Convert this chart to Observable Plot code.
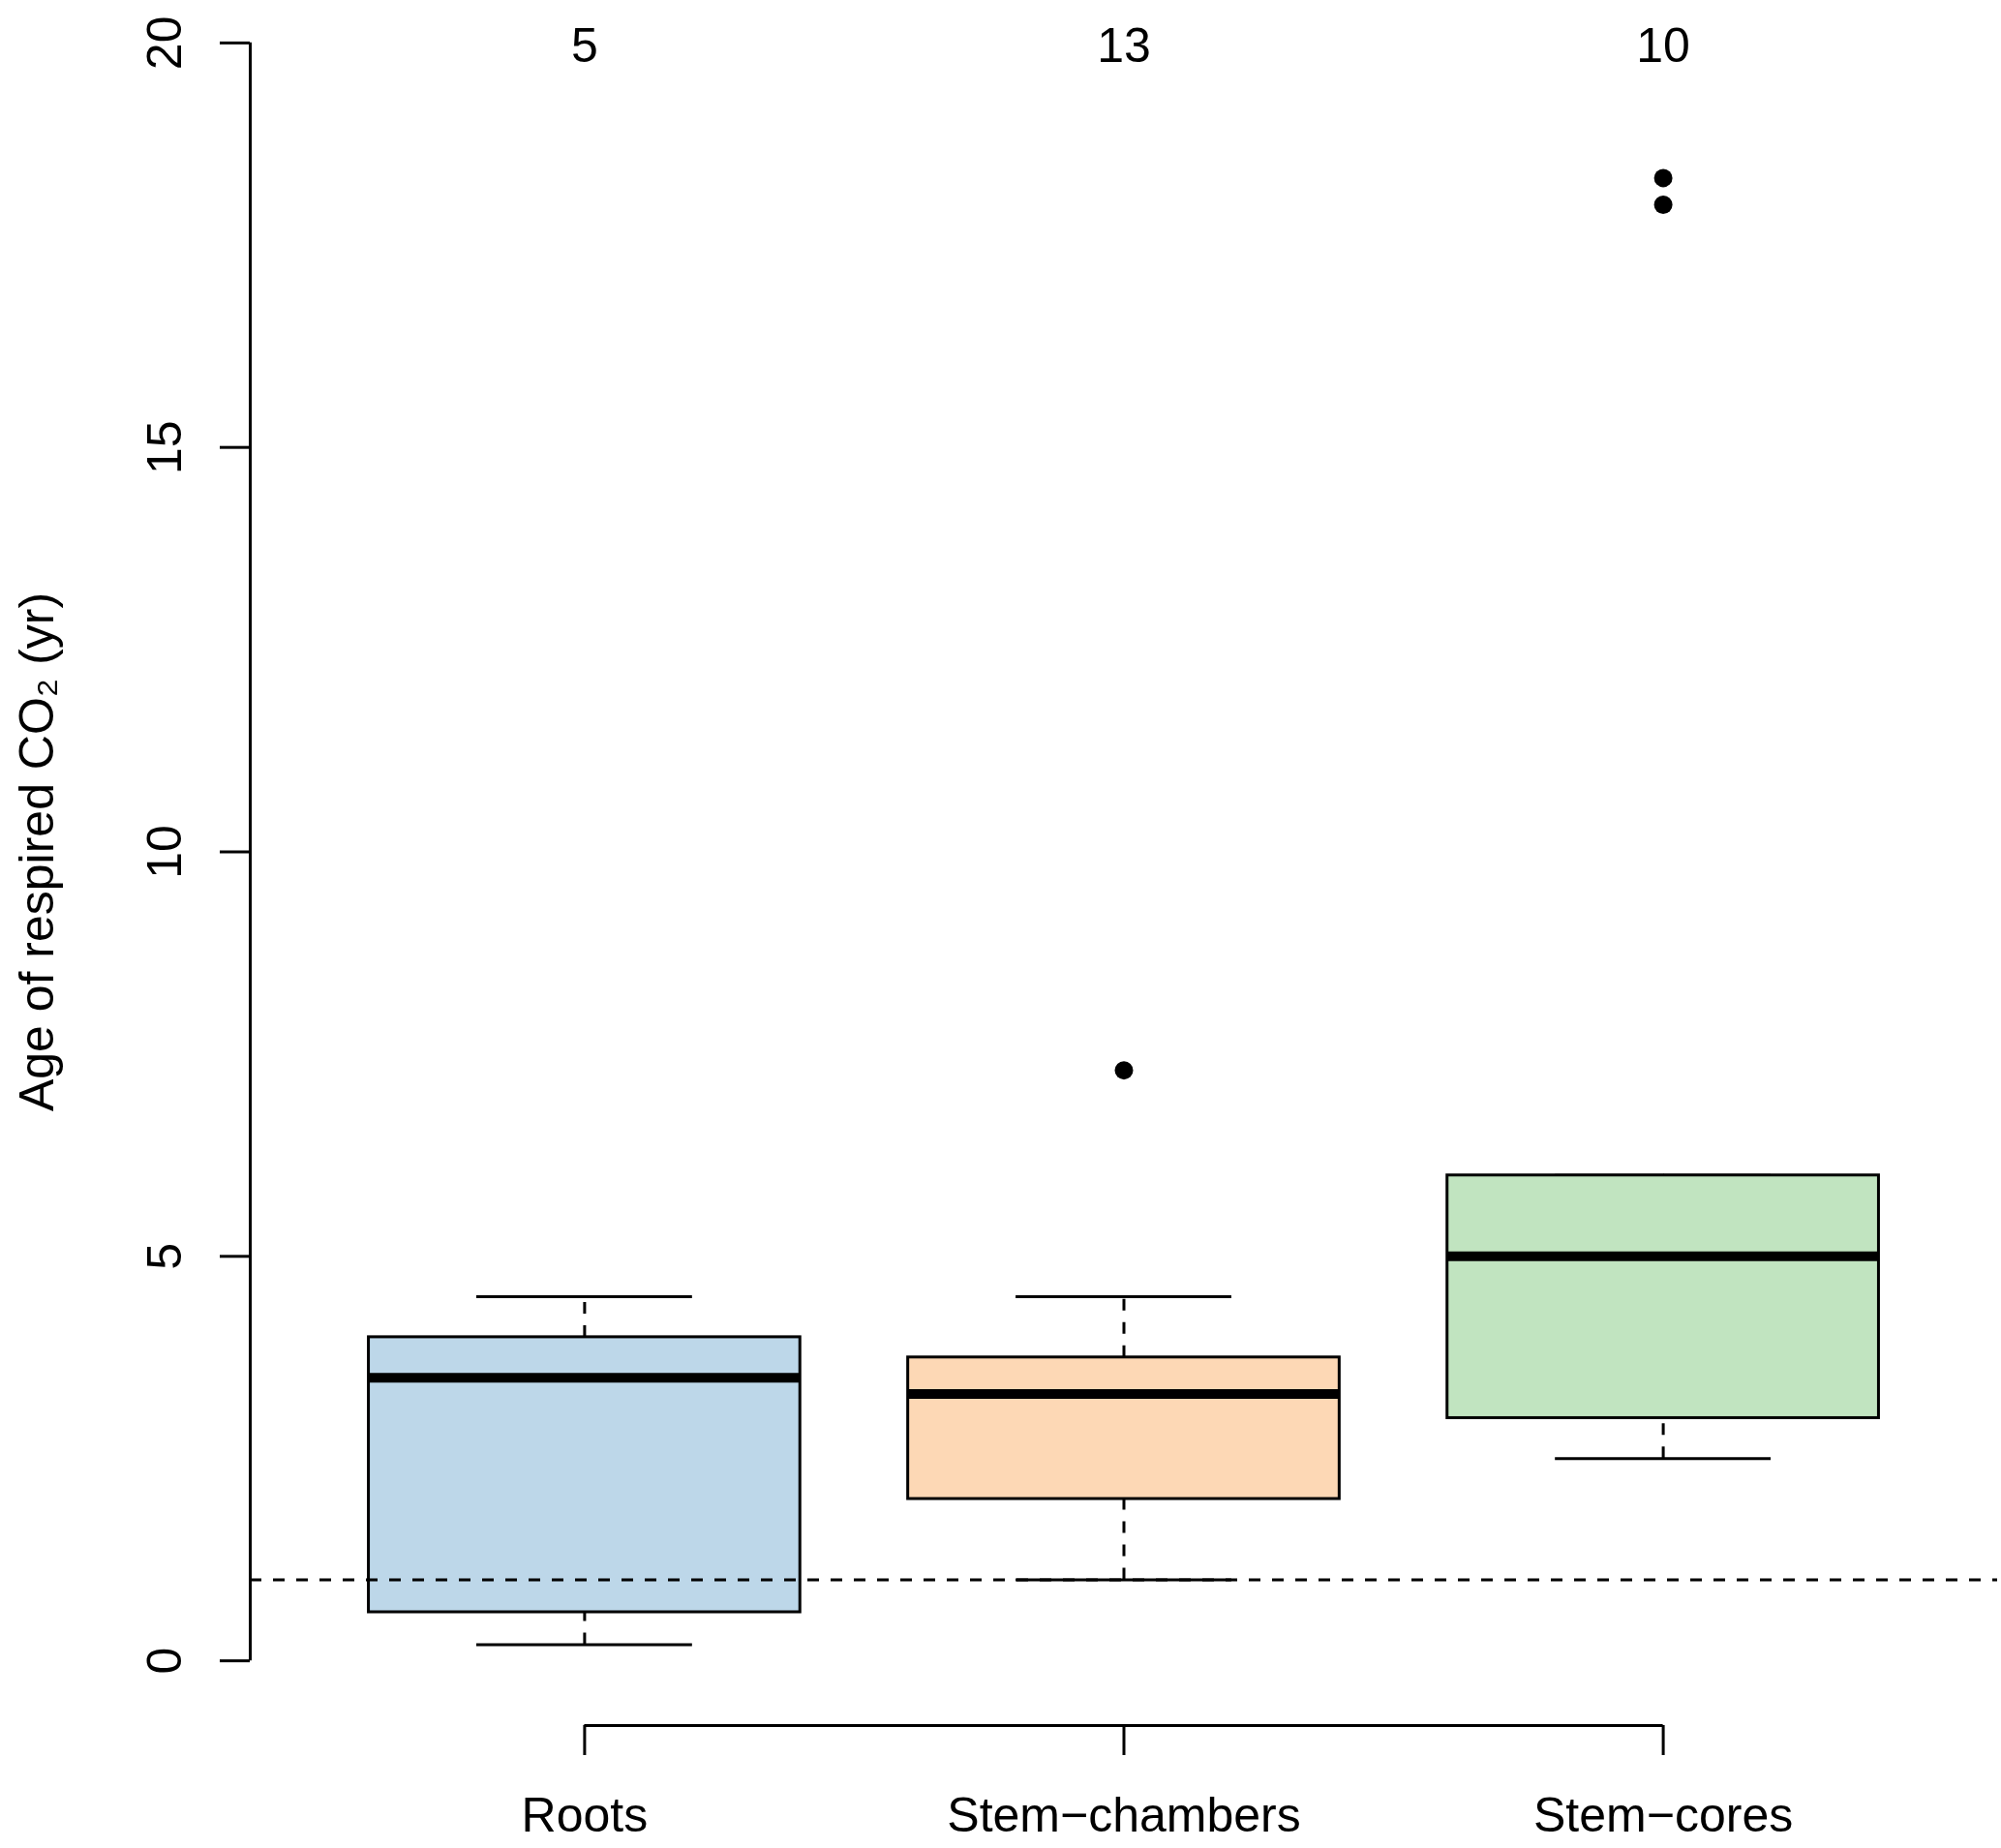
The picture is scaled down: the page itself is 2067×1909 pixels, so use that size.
<!DOCTYPE html>
<html>
<head>
<meta charset="utf-8">
<script src="https://cdn.jsdelivr.net/npm/d3@7"></script>
<script src="https://cdn.jsdelivr.net/npm/@observablehq/plot@0.6"></script>
<style>
  html, body { margin: 0; padding: 0; background: #ffffff; }
  #chart svg { display: block; }
</style>
</head>
<body>
<div id="chart"></div>
<script>
// ---- data ----
const categories   = ["Roots", "Stem\u2212chambers", "Stem\u2212cores"];
const counts       = [5, 13, 10];
const lowerWhisker = [0.2, 1.0, 2.5];
const lowerHinge   = [0.6, 2.0, 3.0];
const medians      = [3.5, 3.3, 5.0];
const upperHinge   = [4.0, 3.75, 6.0];
const upperWhisker = [4.5, 4.5, 6.0];
const boxColors    = ["#bdd7e9", "#fdd8b5", "#c1e4c0"];
const outlierGroups = ["Stem\u2212chambers", "Stem\u2212cores", "Stem\u2212cores"];
const outlierValues = [7.3, 18.0, 18.33];
const referenceAge = 1;
const yTicks = [0, 5, 10, 15, 20];
const yLabel = "Age of respired CO\u2082 (yr)";

// ---- build tables ----
const boxes = categories.map((c, i) => ({
  group: c, pos: i + 1, n: counts[i],
  lo: lowerWhisker[i], q1: lowerHinge[i], med: medians[i],
  q3: upperHinge[i], hi: upperWhisker[i], color: boxColors[i]
}));
const outliers = outlierGroups.map((g, i) => ({pos: categories.indexOf(g) + 1, value: outlierValues[i]}));

// R-style expanded ranges (4% padding)
const xDomain = [0.5 - 0.12, categories.length + 0.5 + 0.12];
const yDomain = [yTicks[0] - 0.04 * (yTicks[yTicks.length - 1] - yTicks[0]),
                 yTicks[yTicks.length - 1] + 0.04 * (yTicks[yTicks.length - 1] - yTicks[0])];
const boxHalf = 0.4, capHalf = 0.2;
const dash = "12,12";
const lw = 3;

const chart = Plot.plot({
  width: 2067,
  height: 1909,
  marginLeft: 258,
  marginRight: 4,
  marginTop: -23,
  marginBottom: 127,
  x: {type: "linear", domain: xDomain, axis: null},
  y: {domain: yDomain, axis: null},
  style: {
    fontFamily: "'Liberation Sans', Arial, Helvetica, sans-serif",
    fontSize: "50px",
    background: "#ffffff",
    color: "#000000"
  },
  marks: [
    // whiskers (dashed)
    Plot.ruleX(boxes, {x: "pos", y1: "q3", y2: "hi", stroke: "black", strokeWidth: lw, strokeDasharray: dash}),
    Plot.ruleX(boxes, {x: "pos", y1: "lo", y2: "q1", stroke: "black", strokeWidth: lw, strokeDasharray: dash}),
    // whisker caps
    Plot.ruleY(boxes, {y: "hi", x1: d => d.pos - capHalf, x2: d => d.pos + capHalf, stroke: "black", strokeWidth: lw}),
    Plot.ruleY(boxes, {y: "lo", x1: d => d.pos - capHalf, x2: d => d.pos + capHalf, stroke: "black", strokeWidth: lw}),
    // boxes
    Plot.rect(boxes, {x1: d => d.pos - boxHalf, x2: d => d.pos + boxHalf, y1: "q1", y2: "q3",
      fill: "color", stroke: "black", strokeWidth: lw}),
    // medians
    Plot.ruleY(boxes, {y: "med", x1: d => d.pos - boxHalf, x2: d => d.pos + boxHalf, stroke: "black", strokeWidth: 10}),
    // outliers
    Plot.dot(outliers, {x: "pos", y: "value", r: 9.5, fill: "black", stroke: "none"}),
    // reference line
    Plot.ruleY([referenceAge], {stroke: "black", strokeWidth: lw, strokeDasharray: dash}),
    // sample sizes
    Plot.text(boxes, {x: "pos", y: yTicks[yTicks.length - 1], text: d => String(d.n), dy: 4,
      textAnchor: "middle", lineAnchor: "middle", fill: "black"}),
    // y axis line, ticks, labels
    Plot.ruleX([xDomain[0]], {y1: yTicks[0], y2: yTicks[yTicks.length - 1], stroke: "black", strokeWidth: lw}),
    Plot.axisY({anchor: "left", ticks: yTicks, tickSize: 31, tickFormat: () => "", label: null, strokeWidth: lw}),
    Plot.text(yTicks, {x: xDomain[0], y: d => d, text: d => String(d), rotate: -90, dx: -88,
      textAnchor: "middle", lineAnchor: "middle", fill: "black"}),
    Plot.text([yLabel], {x: xDomain[0], y: (yTicks[0] + yTicks[yTicks.length - 1]) / 2, text: d => d,
      rotate: -90, dx: -220, textAnchor: "middle", lineAnchor: "middle", fill: "black"}),
    // x axis bracket, ticks, labels
    Plot.ruleY([yDomain[0]], {x1: 1, x2: categories.length, stroke: "black", strokeWidth: lw}),
    Plot.axisX({anchor: "bottom", ticks: boxes.map(d => d.pos), tickSize: 31, tickPadding: 43,
      tickFormat: v => categories[v - 1], label: null, strokeWidth: lw})
  ]
});

document.getElementById("chart").appendChild(chart);
</script>
</body>
</html>
